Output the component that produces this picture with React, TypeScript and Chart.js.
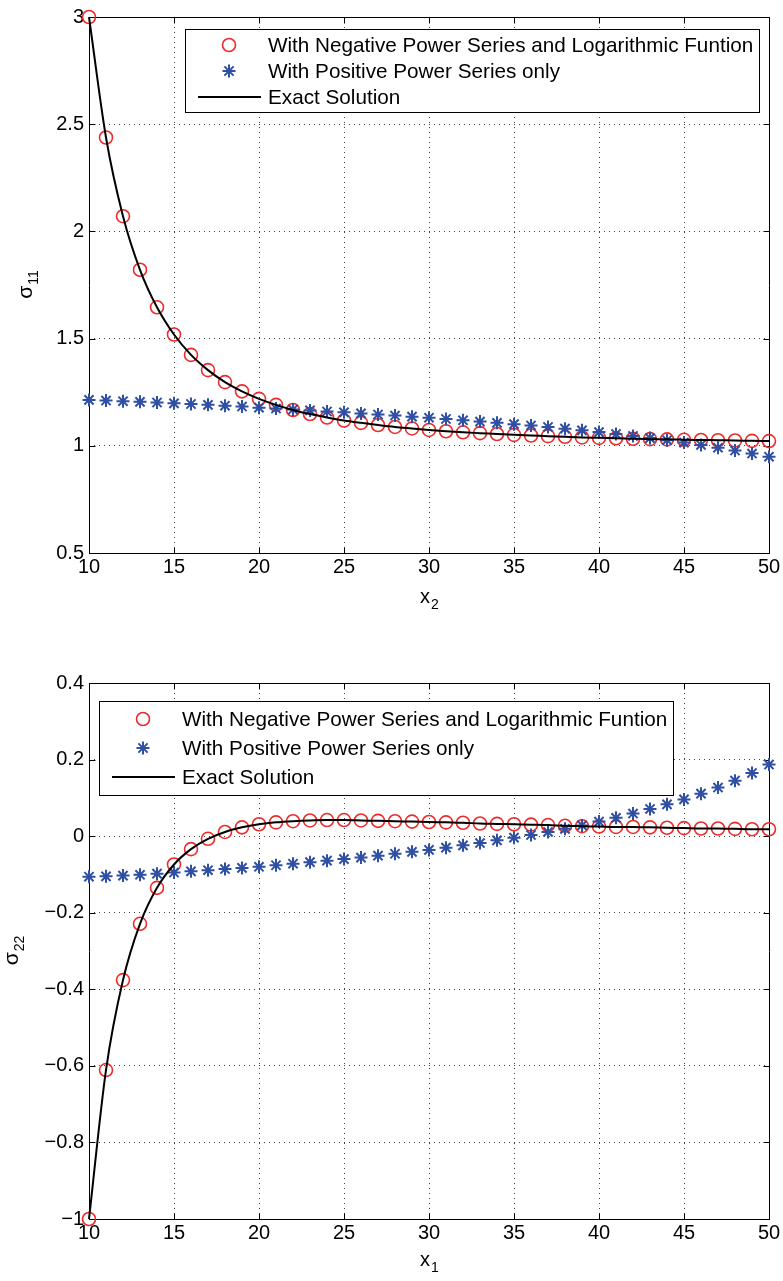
import React, { useEffect, useRef } from "react";
import { Chart, registerables } from "chart.js";

Chart.register(...registerables);

const FONT = '"Liberation Sans", Arial, Helvetica, sans-serif';

const xValues = [
  10, 11, 12, 13, 14, 15, 16, 17, 18, 19, 20, 21, 22, 23, 24, 25, 26, 27, 28, 29, 30,
  31, 32, 33, 34, 35, 36, 37, 38, 39, 40, 41, 42, 43, 44, 45, 46, 47, 48, 49, 50,
];

const legendLabels = [
  "With Negative Power Series and Logarithmic Funtion",
  "With Positive Power Series only",
  "Exact Solution",
];

// top panel: sigma_11 vs x_2
const sigma11Negative = [
  3.0, 2.438, 2.071, 1.821, 1.646, 1.519, 1.424, 1.353, 1.297, 1.254, 1.219, 1.191, 1.167,
  1.148, 1.132, 1.118, 1.107, 1.097, 1.088, 1.081, 1.074, 1.068, 1.063, 1.059, 1.055, 1.051,
  1.048, 1.045, 1.042, 1.039, 1.037, 1.035, 1.033, 1.031, 1.03, 1.028, 1.027, 1.026, 1.025,
  1.023, 1.022,
];
const sigma11Positive = [
  1.214, 1.211, 1.208, 1.205, 1.202, 1.198, 1.195, 1.191, 1.187, 1.183, 1.178, 1.174, 1.169,
  1.165, 1.16, 1.156, 1.151, 1.146, 1.141, 1.136, 1.131, 1.125, 1.119, 1.113, 1.107, 1.101,
  1.095, 1.088, 1.08, 1.072, 1.064, 1.055, 1.046, 1.036, 1.026, 1.015, 1.004, 0.991, 0.978,
  0.964, 0.949,
];
const sigma11Exact = [
  3.0, 2.438, 2.071, 1.821, 1.646, 1.519, 1.424, 1.353, 1.297, 1.254, 1.219, 1.191, 1.167,
  1.148, 1.132, 1.118, 1.107, 1.097, 1.088, 1.081, 1.074, 1.068, 1.063, 1.059, 1.055, 1.051,
  1.048, 1.045, 1.042, 1.039, 1.037, 1.035, 1.033, 1.031, 1.03, 1.028, 1.027, 1.026, 1.025,
  1.023, 1.022,
];

// bottom panel: sigma_22 vs x_1
const sigma22Negative = [
  -1.0, -0.611, -0.376, -0.229, -0.135, -0.074, -0.034, -0.007, 0.011, 0.023, 0.031, 0.036,
  0.039, 0.041, 0.042, 0.042, 0.041, 0.04, 0.039, 0.038, 0.037, 0.036, 0.035, 0.033, 0.032,
  0.031, 0.03, 0.029, 0.027, 0.026, 0.025, 0.024, 0.024, 0.023, 0.022, 0.021, 0.02, 0.02,
  0.019, 0.018, 0.018,
];
const sigma22Positive = [
  -0.106, -0.105, -0.103, -0.101, -0.098, -0.095, -0.092, -0.089, -0.086, -0.083, -0.08,
  -0.076, -0.072, -0.068, -0.064, -0.06, -0.056, -0.051, -0.046, -0.041, -0.036, -0.03,
  -0.024, -0.018, -0.011, -0.004, 0.003, 0.011, 0.019, 0.028, 0.038, 0.048, 0.059, 0.071,
  0.083, 0.096, 0.111, 0.127, 0.145, 0.165, 0.187,
];
const sigma22Exact = [
  -1.0, -0.611, -0.376, -0.229, -0.135, -0.074, -0.034, -0.007, 0.011, 0.023, 0.031, 0.036,
  0.039, 0.041, 0.042, 0.042, 0.041, 0.04, 0.039, 0.038, 0.037, 0.036, 0.035, 0.033, 0.032,
  0.031, 0.03, 0.029, 0.027, 0.026, 0.025, 0.024, 0.024, 0.023, 0.022, 0.021, 0.02, 0.02,
  0.019, 0.018, 0.018,
];

const RED = "#ee2a2a";
const BLUE = "#2f4fa2";
const LEGEND_FONT = 20.7;

type LegendCfg = {
  anchor: "left" | "right";
  dx: number;
  dy: number;
  firstRow: number;
  rowGap: number;
  bottomPad: number;
};

type PanelCfg = {
  negative: number[];
  positive: number[];
  exact: number[];
  yMin: number;
  yMax: number;
  yStep: number;
  ySub: string;
  xSub: string;
  height: number;
  padTop: number;
  xAxisHeight: number;
  yTitleOffset: number;
  xTitleOffset: number;
  legend: LegendCfg;
};

function drawStar(ctx: CanvasRenderingContext2D, x: number, y: number, r: number) {
  ctx.beginPath();
  for (let k = 0; k < 4; k++) {
    const ang = (k * Math.PI) / 4;
    const dx = Math.cos(ang) * r;
    const dy = Math.sin(ang) * r;
    ctx.moveTo(x - dx, y - dy);
    ctx.lineTo(x + dx, y + dy);
  }
  ctx.stroke();
}

const matlabPlugin = {
  id: "matlab",
  beforeDatasetsDraw(chart: any) {
    const { ctx, chartArea: a, scales } = chart;
    const L = Math.round(a.left) + 0.5;
    const R = Math.round(a.right) + 0.5;
    const T = Math.round(a.top) + 0.5;
    const B = Math.round(a.bottom) + 0.5;
    ctx.save();
    ctx.strokeStyle = "#000";
    ctx.lineWidth = 1;
    ctx.beginPath();
    ctx.rect(L, T, R - L, B - T);
    ctx.stroke();
    const tl = 6;
    ctx.beginPath();
    scales.x.ticks.forEach((t: any) => {
      const px = Math.round(scales.x.getPixelForValue(t.value)) + 0.5;
      ctx.moveTo(px, B);
      ctx.lineTo(px, B - tl);
      ctx.moveTo(px, T);
      ctx.lineTo(px, T + tl);
    });
    scales.y.ticks.forEach((t: any) => {
      const py = Math.round(scales.y.getPixelForValue(t.value)) + 0.5;
      ctx.moveTo(L, py);
      ctx.lineTo(L + tl, py);
      ctx.moveTo(R, py);
      ctx.lineTo(R - tl, py);
    });
    ctx.stroke();
    ctx.restore();
  },
  afterDraw(chart: any, _args: any, opts: any) {
    const { ctx, chartArea: a } = chart;
    const lg: LegendCfg = opts.legend;
    ctx.save();
    // legend
    ctx.font = `${LEGEND_FONT}px ${FONT}`;
    const labels: string[] = chart.data.datasets.map((d: any) => d.label);
    const tw = Math.max(...labels.map((l) => ctx.measureText(l).width));
    const boxW = Math.round(83 + tw + 6);
    const boxH = lg.firstRow + lg.rowGap * (labels.length - 1) + lg.bottomPad;
    const left = Math.round(lg.anchor === "right" ? a.right - lg.dx - boxW : a.left + lg.dx);
    const top = Math.round(a.top + lg.dy);
    ctx.fillStyle = "#fff";
    ctx.fillRect(left, top, boxW, boxH);
    ctx.strokeStyle = "#000";
    ctx.lineWidth = 1;
    ctx.strokeRect(left + 0.5, top + 0.5, boxW, boxH);
    labels.forEach((lab, i) => {
      const y = top + lg.firstRow + i * lg.rowGap;
      const ds = chart.data.datasets[i];
      ctx.strokeStyle = ds.borderColor;
      ctx.lineWidth = ds.borderWidth;
      if (i === 0) {
        ctx.beginPath();
        ctx.arc(left + 44, y, ds.pointRadius, 0, Math.PI * 2);
        ctx.stroke();
      } else if (i === 1) {
        drawStar(ctx, left + 44, y, ds.pointRadius);
      } else {
        ctx.beginPath();
        ctx.moveTo(left + 13, y);
        ctx.lineTo(left + 76, y);
        ctx.stroke();
      }
      ctx.fillStyle = "#000";
      ctx.textBaseline = "middle";
      ctx.textAlign = "left";
      ctx.font = `${LEGEND_FONT}px ${FONT}`;
      ctx.fillText(lab, left + 83, y + 1);
    });
    // axis titles with subscripts
    ctx.fillStyle = "#000";
    ctx.textBaseline = "alphabetic";
    ctx.textAlign = "left";
    const cy = (a.top + a.bottom) / 2;
    const bx = a.left - opts.yTitleOffset;
    ctx.save();
    ctx.translate(bx, cy);
    ctx.rotate(-Math.PI / 2);
    ctx.font = `21px ${FONT}`;
    const wS = ctx.measureText("\u03c3").width;
    ctx.font = `14px ${FONT}`;
    const wSub = ctx.measureText(opts.ySub).width;
    const start = -(wS + wSub) / 2;
    ctx.font = `21px ${FONT}`;
    ctx.fillText("\u03c3", start, 0);
    ctx.font = `14px ${FONT}`;
    ctx.fillText(opts.ySub, start + wS + 1, 6);
    ctx.restore();
    const cx = (a.left + a.right) / 2;
    const by = a.bottom + opts.xTitleOffset;
    ctx.font = `20px ${FONT}`;
    const wx = ctx.measureText("x").width;
    ctx.font = `14px ${FONT}`;
    const wxs = ctx.measureText(opts.xSub).width;
    const sx = cx - (wx + wxs) / 2;
    ctx.font = `20px ${FONT}`;
    ctx.fillText("x", sx, by);
    ctx.font = `14px ${FONT}`;
    ctx.fillText(opts.xSub, sx + wx + 1, by + 6);
    ctx.restore();
  },
};

function fmtTick(v: number | string) {
  const n = Number(Number(v).toFixed(1));
  return String(n).replace("-", "\u2212");
}

function Panel({ cfg }: { cfg: PanelCfg }) {
  const ref = useRef<HTMLCanvasElement | null>(null);
  useEffect(() => {
    if (!ref.current) return;
    const toPts = (arr: number[]) => xValues.map((x, i) => ({ x, y: arr[i] }));
    const chart = new Chart(ref.current, {
      type: "line",
      data: {
        datasets: [
          {
            label: legendLabels[0],
            data: toPts(cfg.negative),
            showLine: false,
            pointStyle: "circle",
            pointRadius: 6.5,
            pointBorderWidth: 1.6,
            borderWidth: 1.6,
            borderColor: RED,
            pointBorderColor: RED,
            pointBackgroundColor: "rgba(0,0,0,0)",
            backgroundColor: "rgba(0,0,0,0)",
            clip: false,
            order: 3,
          } as any,
          {
            label: legendLabels[1],
            data: toPts(cfg.positive),
            showLine: false,
            pointStyle: "star",
            pointRadius: 6.5,
            pointBorderWidth: 2,
            borderWidth: 2,
            borderColor: BLUE,
            pointBorderColor: BLUE,
            pointBackgroundColor: BLUE,
            backgroundColor: BLUE,
            clip: false,
            order: 2,
          } as any,
          {
            label: legendLabels[2],
            data: toPts(cfg.exact),
            borderColor: "#000",
            borderWidth: 2,
            pointRadius: 0,
            cubicInterpolationMode: "monotone",
            fill: false,
            clip: false,
            order: 1,
          } as any,
        ],
      },
      options: {
        responsive: false,
        animation: false,
        events: [],
        layout: { padding: { left: 0, right: 14, top: cfg.padTop, bottom: 0 } },
        plugins: {
          legend: { display: false },
          tooltip: { enabled: false },
          matlab: {
            legend: cfg.legend,
            ySub: cfg.ySub,
            xSub: cfg.xSub,
            yTitleOffset: cfg.yTitleOffset,
            xTitleOffset: cfg.xTitleOffset,
          },
        } as any,
        scales: {
          x: {
            type: "linear",
            min: 10,
            max: 50,
            afterFit: (s: any) => {
              s.height = cfg.xAxisHeight;
            },
            ticks: {
              stepSize: 5,
              color: "#000",
              font: { family: FONT, size: 20 },
              padding: 2,
              maxRotation: 0,
              callback: (v: any) => fmtTick(v),
            },
            grid: { color: "#444", lineWidth: 1, drawTicks: false },
            border: { display: false, dash: [1, 4] },
          },
          y: {
            type: "linear",
            min: cfg.yMin,
            max: cfg.yMax,
            afterFit: (s: any) => {
              s.width = 89;
            },
            ticks: {
              stepSize: cfg.yStep,
              color: "#000",
              font: { family: FONT, size: 20 },
              padding: 5,
              callback: (v: any) => fmtTick(v),
            },
            grid: { color: "#444", lineWidth: 1, drawTicks: false },
            border: { display: false, dash: [1, 4] },
          },
        },
      },
      plugins: [matlabPlugin as any],
    });
    return () => chart.destroy();
  }, [cfg]);
  return <canvas ref={ref} width={783} height={cfg.height} style={{ display: "block" }} />;
}

const topCfg: PanelCfg = {
  negative: sigma11Negative,
  positive: sigma11Positive,
  exact: sigma11Exact,
  yMin: 0.5,
  yMax: 3,
  yStep: 0.5,
  ySub: "11",
  xSub: "2",
  height: 640,
  padTop: 15,
  xAxisHeight: 87,
  yTitleOffset: 57,
  xTitleOffset: 50,
  legend: { anchor: "right", dx: 10, dy: 12, firstRow: 16, rowGap: 26, bottomPad: 15 },
};

const bottomCfg: PanelCfg = {
  negative: sigma22Negative,
  positive: sigma22Positive,
  exact: sigma22Exact,
  yMin: -1,
  yMax: 0.4,
  yStep: 0.2,
  ySub: "22",
  xSub: "1",
  height: 641,
  padTop: 43,
  xAxisHeight: 62,
  yTitleOffset: 71,
  xTitleOffset: 47,
  legend: { anchor: "left", dx: 10, dy: 18, firstRow: 18, rowGap: 29, bottomPad: 18 },
};

export default function App() {
  return (
    <div
      style={{
        position: "absolute",
        left: 0,
        top: 0,
        width: 783,
        height: 1281,
        background: "#fff",
        overflow: "hidden",
      }}
    >
      <Panel cfg={topCfg} />
      <Panel cfg={bottomCfg} />
    </div>
  );
}
